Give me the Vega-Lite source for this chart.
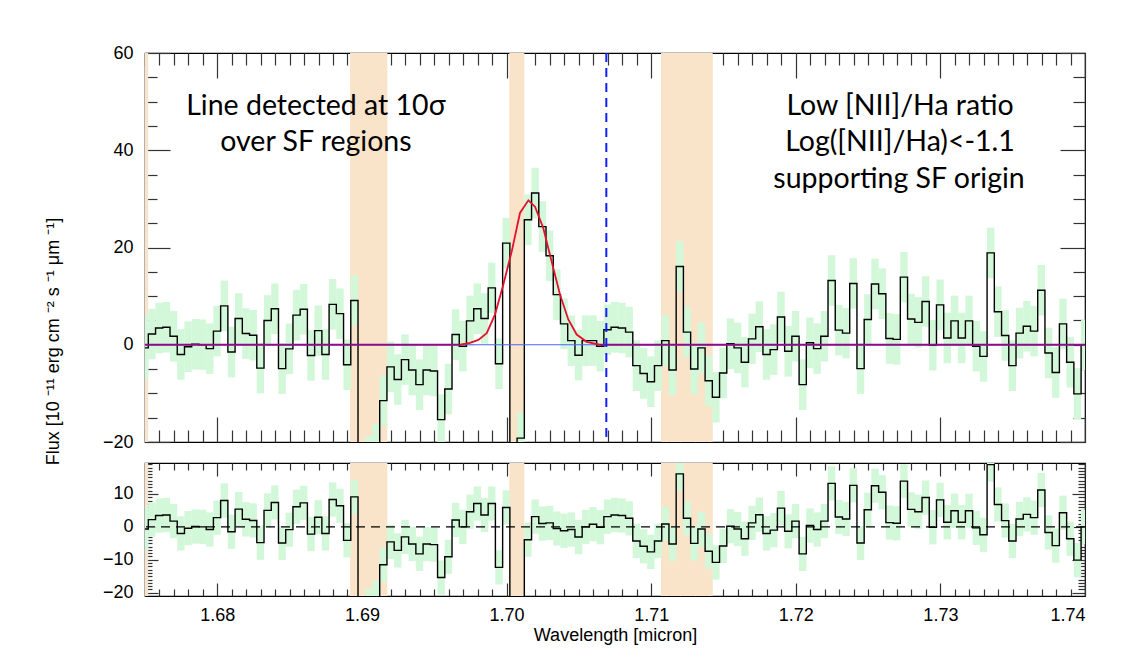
{
  "$schema": "https://vega.github.io/schema/vega-lite/v6.json",
  "background": "white",
  "padding": {"left": 43, "top": 43, "right": 10, "bottom": 5},
  "bounds": "flush",
  "spacing": 21,
  "config": {
    "view": {"stroke": "black", "strokeWidth": 1.2},
    "axis": {"domain": false, "grid": false, "labelFont": "Liberation Sans", "labelFontSize": 18, "labelColor": "black", "labelOverlap": false, "titleFont": "Liberation Sans", "titleFontSize": 18, "titleFontWeight": "normal", "titleColor": "black", "tickColor": "#333333", "tickWidth": 1.2}
  },
  "datasets": {
    "spec": [
      {"w":1.67498,"f":-0.65,"r":-0.65,"e":6.5},
      {"w":1.67548,"f":2.2,"r":2.2,"e":5.2},
      {"w":1.67598,"f":3.45,"r":3.45,"e":5.2},
      {"w":1.67648,"f":3.6,"r":3.6,"e":5.2},
      {"w":1.67698,"f":1.75,"r":1.75,"e":5.2},
      {"w":1.67748,"f":-2.0,"r":-2.0,"e":5.2},
      {"w":1.67798,"f":-0.4,"r":-0.4,"e":5.2},
      {"w":1.67848,"f":0.1,"r":0.1,"e":5.2},
      {"w":1.67898,"f":0.0,"r":0.0,"e":5.2},
      {"w":1.67948,"f":-0.8,"r":-0.8,"e":5.2},
      {"w":1.67998,"f":2.8,"r":2.8,"e":5.2},
      {"w":1.68048,"f":8.0,"r":8.0,"e":5.2},
      {"w":1.68098,"f":-1.5,"r":-1.5,"e":5.2},
      {"w":1.68148,"f":5.4,"r":5.4,"e":5.2},
      {"w":1.68198,"f":2.3,"r":2.3,"e":5.2},
      {"w":1.68248,"f":1.95,"r":1.95,"e":5.2},
      {"w":1.68298,"f":-4.8,"r":-4.8,"e":5.2},
      {"w":1.68348,"f":5.0,"r":5.0,"e":5.2},
      {"w":1.68398,"f":7.4,"r":7.4,"e":5.2},
      {"w":1.68448,"f":-4.9,"r":-4.9,"e":5.2},
      {"w":1.68498,"f":-0.85,"r":-0.85,"e":5.2},
      {"w":1.68548,"f":6.1,"r":6.1,"e":5.2},
      {"w":1.68598,"f":7.3,"r":7.3,"e":5.2},
      {"w":1.68648,"f":-2.2,"r":-2.2,"e":5.2},
      {"w":1.68698,"f":2.9,"r":2.9,"e":5.2},
      {"w":1.68748,"f":-2.0,"r":-2.0,"e":5.2},
      {"w":1.68798,"f":8.3,"r":8.3,"e":5.2},
      {"w":1.68848,"f":6.4,"r":6.4,"e":5.2},
      {"w":1.68898,"f":-4.1,"r":-4.1,"e":5.2},
      {"w":1.68948,"f":9.1,"r":9.1,"e":5.2},
      {"w":1.68998,"f":-32,"r":-32,"e":5.2},
      {"w":1.69048,"f":-24,"r":-24,"e":5.2},
      {"w":1.69098,"f":-21.5,"r":-21.5,"e":5.2},
      {"w":1.69148,"f":-11.5,"r":-11.5,"e":5.2},
      {"w":1.69198,"f":-4.55,"r":-4.55,"e":5.2},
      {"w":1.69248,"f":-7.15,"r":-7.15,"e":5.2},
      {"w":1.69298,"f":-3.05,"r":-3.05,"e":5.2},
      {"w":1.69348,"f":-5.2,"r":-5.2,"e":5.2},
      {"w":1.69398,"f":-8.2,"r":-8.2,"e":5.2},
      {"w":1.69448,"f":-5.2,"r":-5.2,"e":5.2},
      {"w":1.69498,"f":-5.4,"r":-5.4,"e":5.2},
      {"w":1.69548,"f":-15.4,"r":-15.4,"e":5.2},
      {"w":1.69598,"f":-9.1,"r":-9.1,"e":5.2},
      {"w":1.69648,"f":2.1,"r":2.1,"e":5.2},
      {"w":1.69698,"f":-0.3,"r":0.0,"e":5.2},
      {"w":1.69748,"f":4.9,"r":4.6,"e":5.2},
      {"w":1.69798,"f":7.4,"r":7.1,"e":5.2},
      {"w":1.69848,"f":5.4,"r":3.6,"e":5.2},
      {"w":1.69898,"f":11.7,"r":7.1,"e":5.2},
      {"w":1.69948,"f":-3.9,"r":-12.3,"e":5.2},
      {"w":1.69998,"f":20.9,"r":5.9,"e":5.2},
      {"w":1.70048,"f":-35,"r":-60,"e":5.2},
      {"w":1.70098,"f":-19.2,"r":-45,"e":5.2},
      {"w":1.70148,"f":25.7,"r":-3.9,"e":5.2},
      {"w":1.70198,"f":31.2,"r":3.1,"e":5.2},
      {"w":1.70248,"f":24.3,"r":1.0,"e":5.2},
      {"w":1.70298,"f":18.3,"r":1.2,"e":5.2},
      {"w":1.70348,"f":10.3,"r":-0.5,"e":5.2},
      {"w":1.70398,"f":4.3,"r":-1.2,"e":5.2},
      {"w":1.70448,"f":0.85,"r":-0.8,"e":5.2},
      {"w":1.70498,"f":-2.15,"r":-3.1,"e":5.2},
      {"w":1.70548,"f":0.85,"r":0.0,"e":5.2},
      {"w":1.70598,"f":0.85,"r":0.8,"e":5.2},
      {"w":1.70648,"f":-0.3,"r":-0.1,"e":5.2},
      {"w":1.70698,"f":3.1,"r":3.1,"e":5.2},
      {"w":1.70748,"f":3.6,"r":3.6,"e":5.2},
      {"w":1.70798,"f":3.45,"r":3.45,"e":5.2},
      {"w":1.70848,"f":2.6,"r":2.6,"e":5.2},
      {"w":1.70898,"f":-4.3,"r":-4.3,"e":5.2},
      {"w":1.70948,"f":-5.9,"r":-5.9,"e":5.2},
      {"w":1.70998,"f":-7.6,"r":-7.6,"e":5.2},
      {"w":1.71048,"f":-4.3,"r":-4.3,"e":5.2},
      {"w":1.71098,"f":0.85,"r":0.85,"e":5.2},
      {"w":1.71148,"f":-5.2,"r":-5.2,"e":5.2},
      {"w":1.71198,"f":16.1,"r":16.1,"e":5.2},
      {"w":1.71248,"f":2.6,"r":2.6,"e":5.2},
      {"w":1.71298,"f":-5.0,"r":-5.0,"e":5.2},
      {"w":1.71348,"f":-0.65,"r":-0.65,"e":5.2},
      {"w":1.71398,"f":-7.4,"r":-7.4,"e":5.2},
      {"w":1.71448,"f":-10.8,"r":-10.8,"e":5.2},
      {"w":1.71498,"f":-5.8,"r":-5.8,"e":5.2},
      {"w":1.71548,"f":0.2,"r":0.2,"e":5.2},
      {"w":1.71598,"f":-0.65,"r":-0.65,"e":5.2},
      {"w":1.71648,"f":-3.6,"r":-3.6,"e":5.2},
      {"w":1.71698,"f":1.2,"r":1.2,"e":5.2},
      {"w":1.71748,"f":3.7,"r":3.7,"e":5.2},
      {"w":1.71798,"f":-2.0,"r":-2.0,"e":5.2},
      {"w":1.71848,"f":-1.0,"r":-1.0,"e":5.2},
      {"w":1.71898,"f":5.7,"r":5.7,"e":5.2},
      {"w":1.71948,"f":-1.35,"r":-1.35,"e":5.2},
      {"w":1.71998,"f":1.75,"r":1.75,"e":5.2},
      {"w":1.72048,"f":-8.2,"r":-8.2,"e":5.2},
      {"w":1.72098,"f":0.4,"r":0.4,"e":5.2},
      {"w":1.72148,"f":-0.8,"r":-0.8,"e":5.2},
      {"w":1.72198,"f":1.75,"r":1.75,"e":5.2},
      {"w":1.72248,"f":13.2,"r":13.2,"e":5.2},
      {"w":1.72298,"f":3.0,"r":3.0,"e":5.2},
      {"w":1.72348,"f":2.4,"r":2.4,"e":5.2},
      {"w":1.72398,"f":12.6,"r":12.6,"e":5.2},
      {"w":1.72448,"f":-4.9,"r":-4.9,"e":5.2},
      {"w":1.72498,"f":5.2,"r":5.2,"e":5.2},
      {"w":1.72548,"f":12.5,"r":12.5,"e":5.2},
      {"w":1.72598,"f":10.5,"r":10.5,"e":5.2},
      {"w":1.72648,"f":1.3,"r":1.3,"e":5.2},
      {"w":1.72698,"f":1.1,"r":1.1,"e":5.2},
      {"w":1.72748,"f":13.9,"r":13.9,"e":5.2},
      {"w":1.72798,"f":5.3,"r":5.3,"e":5.2},
      {"w":1.72848,"f":4.6,"r":4.6,"e":5.2},
      {"w":1.72898,"f":8.9,"r":8.9,"e":5.2},
      {"w":1.72948,"f":-0.1,"r":-0.1,"e":5.2},
      {"w":1.72998,"f":8.2,"r":8.2,"e":5.2},
      {"w":1.73048,"f":1.4,"r":1.4,"e":5.2},
      {"w":1.73098,"f":4.9,"r":4.9,"e":5.2},
      {"w":1.73148,"f":1.4,"r":1.4,"e":5.2},
      {"w":1.73198,"f":4.9,"r":4.9,"e":5.2},
      {"w":1.73248,"f":-0.3,"r":-0.3,"e":5.2},
      {"w":1.73298,"f":-2.4,"r":-2.4,"e":5.2},
      {"w":1.73348,"f":18.9,"r":18.9,"e":5.2},
      {"w":1.73398,"f":6.8,"r":6.8,"e":5.2},
      {"w":1.73448,"f":1.9,"r":1.9,"e":5.2},
      {"w":1.73498,"f":-4.3,"r":-4.3,"e":5.2},
      {"w":1.73548,"f":2.4,"r":2.4,"e":5.2},
      {"w":1.73598,"f":3.8,"r":3.8,"e":5.2},
      {"w":1.73648,"f":2.8,"r":2.8,"e":5.2},
      {"w":1.73698,"f":11.2,"r":11.2,"e":5.2},
      {"w":1.73748,"f":-1.7,"r":-1.7,"e":5.2},
      {"w":1.73798,"f":-5.7,"r":-5.7,"e":5.2},
      {"w":1.73848,"f":4.3,"r":4.3,"e":5.2},
      {"w":1.73898,"f":-3.6,"r":-3.6,"e":5.2},
      {"w":1.73948,"f":-10.1,"r":-10.1,"e":5.2},
      {"w":1.73998,"f":0.0,"r":0.0,"e":5.2}
    ],
    "bands": [
      {"a":1.67490,"b":1.67522},
      {"a":1.68918,"b":1.69176},
      {"a":1.70019,"b":1.70123},
      {"a":1.71068,"b":1.71426}
    ],
    "model": [
      {"w":1.675,"m":0,"s":"p1"},
      {"w":1.69678,"m":0,"s":"p1"},
      {"w":1.69678,"m":0,"s":"g"},
      {"w":1.69747,"m":0.4,"s":"g"},
      {"w":1.69805,"m":1.0,"s":"g"},
      {"w":1.69863,"m":2.4,"s":"g"},
      {"w":1.6992,"m":6.2,"s":"g"},
      {"w":1.69978,"m":12.4,"s":"g"},
      {"w":1.70036,"m":19.2,"s":"g"},
      {"w":1.70093,"m":27.1,"s":"g"},
      {"w":1.70151,"m":29.7,"s":"g"},
      {"w":1.70197,"m":28.4,"s":"g"},
      {"w":1.70254,"m":24.0,"s":"g"},
      {"w":1.70312,"m":17.1,"s":"g"},
      {"w":1.7037,"m":10.3,"s":"g"},
      {"w":1.70427,"m":5.2,"s":"g"},
      {"w":1.70485,"m":2.1,"s":"g"},
      {"w":1.70554,"m":0.6,"s":"g"},
      {"w":1.70646,"m":0,"s":"g"},
      {"w":1.70646,"m":0,"s":"p2"},
      {"w":1.74,"m":0,"s":"p2"}
    ],
    "notes": [
      {"w":1.68682,"v":47.35,"t":"Line detected at 10σ"},
      {"w":1.68682,"v":39.75,"t":"over SF regions"},
      {"w":1.72721,"v":47.35,"t":"Low [NII]/Ha ratio"},
      {"w":1.72721,"v":39.75,"t":"Log([NII]/Ha)<-1.1"},
      {"w":1.72714,"v":32.15,"t":"supporting SF origin"}
    ],
    "marker": [{"w":1.7069,"z":0}]
  },
  "vconcat": [
    {
      "width": 940,
      "height": 389,
      "resolve": {"axis": {"x": "independent", "y": "independent"}},
      "layer": [
        {
          "data": {"name": "bands"},
          "mark": {"type": "rect", "color": "#f9e4c9", "clip": true},
          "encoding": {
            "x": {"field": "a", "type": "quantitative", "scale": {"domain": [1.675, 1.74], "nice": false, "zero": false},
              "axis": {"orient": "bottom", "labels": false, "title": null,
                "values": [1.675,1.676,1.677,1.678,1.679,1.68,1.681,1.682,1.683,1.684,1.685,1.686,1.687,1.688,1.689,1.69,1.691,1.692,1.693,1.694,1.695,1.696,1.697,1.698,1.699,1.7,1.701,1.702,1.703,1.704,1.705,1.706,1.707,1.708,1.709,1.71,1.711,1.712,1.713,1.714,1.715,1.716,1.717,1.718,1.719,1.72,1.721,1.722,1.723,1.724,1.725,1.726,1.727,1.728,1.729,1.73,1.731,1.732,1.733,1.734,1.735,1.736,1.737,1.738,1.739,1.74],
                "tickSize": {"condition": {"test": "abs(datum.value*100 - round(datum.value*100)) < 0.001", "value": -25}, "value": -12}}},
            "x2": {"field": "b"}
          }
        },
        {
          "data": {"name": "spec"},
          "mark": {"type": "errorbar", "thickness": 7.4, "color": "#d3f8d9", "clip": true},
          "encoding": {
            "x": {"field": "w", "type": "quantitative", "scale": {"domain": [1.675, 1.74], "nice": false, "zero": false}, "axis": null},
            "y": {"field": "f", "type": "quantitative", "scale": {"domain": [-20, 60], "nice": false, "zero": false},
              "axis": {"orient": "right", "labels": false, "title": null,
                "values": [-20,-15,-10,-5,0,5,10,15,20,25,30,35,40,45,50,55,60],
                "tickSize": {"condition": {"test": "datum.value % 20 == 0", "value": -25}, "value": -12}}},
            "yError": {"field": "e"}
          }
        },
        {
          "data": {"name": "spec"},
          "mark": {"type": "line", "interpolate": "step", "color": "black", "strokeWidth": 1.4, "clip": true},
          "encoding": {
            "x": {"field": "w", "type": "quantitative", "scale": {"domain": [1.675, 1.74], "nice": false, "zero": false},
              "axis": {"orient": "top", "labels": false, "title": null,
                "values": [1.675,1.676,1.677,1.678,1.679,1.68,1.681,1.682,1.683,1.684,1.685,1.686,1.687,1.688,1.689,1.69,1.691,1.692,1.693,1.694,1.695,1.696,1.697,1.698,1.699,1.7,1.701,1.702,1.703,1.704,1.705,1.706,1.707,1.708,1.709,1.71,1.711,1.712,1.713,1.714,1.715,1.716,1.717,1.718,1.719,1.72,1.721,1.722,1.723,1.724,1.725,1.726,1.727,1.728,1.729,1.73,1.731,1.732,1.733,1.734,1.735,1.736,1.737,1.738,1.739,1.74],
                "tickSize": {"condition": {"test": "abs(datum.value*100 - round(datum.value*100)) < 0.001", "value": -25}, "value": -12}}},
            "y": {"field": "f", "type": "quantitative", "scale": {"domain": [-20, 60], "nice": false, "zero": false},
              "axis": {"orient": "left",
                "values": [-20,-15,-10,-5,0,5,10,15,20,25,30,35,40,45,50,55,60],
                "labelExpr": "datum.value % 20 == 0 ? datum.label : ''",
                "labelPadding": 37,
                "tickSize": {"condition": {"test": "datum.value % 20 == 0", "value": -25}, "value": -12},
                "title": "Flux [10 ⁻¹¹ erg cm ⁻² s ⁻¹  μm ⁻¹]",
                "titleAngle": -90, "titleX": -87, "titleY": 288, "titleAlign": "center", "titleBaseline": "alphabetic"}}
          }
        },
        {
          "data": {"name": "marker"},
          "mark": {"type": "rule", "color": "#4a62ff", "strokeWidth": 1},
          "encoding": {"y": {"field": "z", "type": "quantitative", "scale": {"domain": [-20, 60], "nice": false, "zero": false}, "axis": null}}
        },
        {
          "data": {"name": "model"},
          "mark": {"type": "line", "strokeWidth": 1.8, "clip": true},
          "encoding": {
            "x": {"field": "w", "type": "quantitative", "scale": {"domain": [1.675, 1.74], "nice": false, "zero": false}, "axis": null},
            "y": {"field": "m", "type": "quantitative", "scale": {"domain": [-20, 60], "nice": false, "zero": false}, "axis": null},
            "color": {"field": "s", "type": "nominal", "scale": {"domain": ["p1", "g", "p2"], "range": ["#8a0f84", "#e3102e", "#8a0f84"]}, "legend": null},
            "order": {"field": "w", "type": "quantitative"}
          }
        },
        {
          "data": {"name": "marker"},
          "mark": {"type": "rule", "color": "#1020ff", "strokeWidth": 2, "strokeDash": [9, 6]},
          "encoding": {"x": {"field": "w", "type": "quantitative", "scale": {"domain": [1.675, 1.74], "nice": false, "zero": false}, "axis": null}}
        },
        {
          "data": {"name": "notes"},
          "mark": {"type": "text", "font": "Lato", "fontSize": 28.5, "align": "center", "baseline": "alphabetic", "color": "black"},
          "encoding": {
            "x": {"field": "w", "type": "quantitative", "scale": {"domain": [1.675, 1.74], "nice": false, "zero": false}, "axis": null},
            "y": {"field": "v", "type": "quantitative", "scale": {"domain": [-20, 60], "nice": false, "zero": false}, "axis": null},
            "text": {"field": "t"}
          }
        }
      ]
    },
    {
      "width": 940,
      "height": 133,
      "resolve": {"axis": {"x": "independent", "y": "independent"}},
      "layer": [
        {
          "data": {"name": "bands"},
          "mark": {"type": "rect", "color": "#f9e4c9", "clip": true},
          "encoding": {
            "x": {"field": "a", "type": "quantitative", "scale": {"domain": [1.675, 1.74], "nice": false, "zero": false},
              "axis": {"orient": "bottom",
                "values": [1.675,1.676,1.677,1.678,1.679,1.68,1.681,1.682,1.683,1.684,1.685,1.686,1.687,1.688,1.689,1.69,1.691,1.692,1.693,1.694,1.695,1.696,1.697,1.698,1.699,1.7,1.701,1.702,1.703,1.704,1.705,1.706,1.707,1.708,1.709,1.71,1.711,1.712,1.713,1.714,1.715,1.716,1.717,1.718,1.719,1.72,1.721,1.722,1.723,1.724,1.725,1.726,1.727,1.728,1.729,1.73,1.731,1.732,1.733,1.734,1.735,1.736,1.737,1.738,1.739,1.74],
                "labelExpr": "abs(datum.value*100 - round(datum.value*100)) < 0.001 ? format(datum.value, '.2f') : ''",
                "labelPadding": 23,
                "tickSize": {"condition": {"test": "abs(datum.value*100 - round(datum.value*100)) < 0.001", "value": -13}, "value": -7},
                "title": "Wavelength [micron]", "titlePadding": -4}},
            "x2": {"field": "b"}
          }
        },
        {
          "data": {"name": "spec"},
          "mark": {"type": "errorbar", "thickness": 7.4, "color": "#d3f8d9", "clip": true},
          "encoding": {
            "x": {"field": "w", "type": "quantitative", "scale": {"domain": [1.675, 1.74], "nice": false, "zero": false}, "axis": null},
            "y": {"field": "r", "type": "quantitative", "scale": {"domain": [-21, 19.4], "nice": false, "zero": false},
              "axis": {"orient": "right", "labels": false, "title": null,
                "values": [-20,-19,-18,-17,-16,-15,-14,-13,-12,-11,-10,-9,-8,-7,-6,-5,-4,-3,-2,-1,0,1,2,3,4,5,6,7,8,9,10,11,12,13,14,15,16,17,18,19],
                "tickSize": {"condition": {"test": "datum.value % 10 == 0", "value": -13}, "value": -7}}},
            "yError": {"field": "e"}
          }
        },
        {
          "data": {"name": "spec"},
          "mark": {"type": "line", "interpolate": "step", "color": "black", "strokeWidth": 1.4, "clip": true},
          "encoding": {
            "x": {"field": "w", "type": "quantitative", "scale": {"domain": [1.675, 1.74], "nice": false, "zero": false},
              "axis": {"orient": "top", "labels": false, "title": null,
                "values": [1.675,1.676,1.677,1.678,1.679,1.68,1.681,1.682,1.683,1.684,1.685,1.686,1.687,1.688,1.689,1.69,1.691,1.692,1.693,1.694,1.695,1.696,1.697,1.698,1.699,1.7,1.701,1.702,1.703,1.704,1.705,1.706,1.707,1.708,1.709,1.71,1.711,1.712,1.713,1.714,1.715,1.716,1.717,1.718,1.719,1.72,1.721,1.722,1.723,1.724,1.725,1.726,1.727,1.728,1.729,1.73,1.731,1.732,1.733,1.734,1.735,1.736,1.737,1.738,1.739,1.74],
                "tickSize": {"condition": {"test": "abs(datum.value*100 - round(datum.value*100)) < 0.001", "value": -13}, "value": -7}}},
            "y": {"field": "r", "type": "quantitative", "scale": {"domain": [-21, 19.4], "nice": false, "zero": false},
              "axis": {"orient": "left", "title": null,
                "values": [-20,-19,-18,-17,-16,-15,-14,-13,-12,-11,-10,-9,-8,-7,-6,-5,-4,-3,-2,-1,0,1,2,3,4,5,6,7,8,9,10,11,12,13,14,15,16,17,18,19],
                "labelExpr": "datum.value % 10 == 0 ? datum.label : ''",
                "labelPadding": 25,
                "tickSize": {"condition": {"test": "datum.value % 10 == 0", "value": -13}, "value": -7}}}
          }
        },
        {
          "data": {"name": "marker"},
          "mark": {"type": "rule", "color": "black", "strokeWidth": 1.2, "strokeDash": [9, 6]},
          "encoding": {"y": {"field": "z", "type": "quantitative", "scale": {"domain": [-21, 19.4], "nice": false, "zero": false}, "axis": null}}
        }
      ]
    }
  ]
}
